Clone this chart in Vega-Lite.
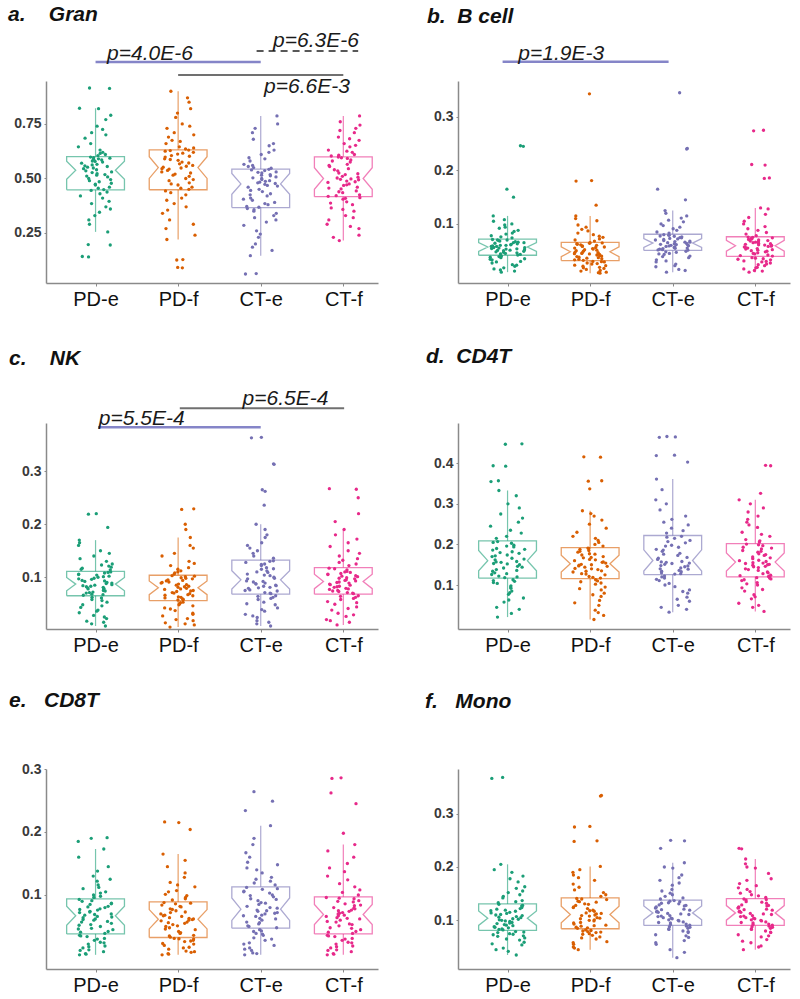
{
"$schema":"https://vega.github.io/schema/vega-lite/v6.json",
"background":"white",
"padding":{"left":8,"top":3,"right":5,"bottom":5},
"columns":2,
"spacing":{"row":140,"column":80},
"bounds":"flush",
"concat":[
{"width":332,"height":202,"data":{"name":"a"},
"title":{"text":"a.\u00a0\u00a0\u00a0\u00a0Gran","dx":-38,"offset":5},
"encoding":{
"x":{"field":"X","type":"quantitative","scale":{"domain":[0.4,4.42],"nice":false,"zero":false},"axis":{"values":[1,2,3,4],"labelExpr":"['','PD-e','PD-f','CT-e','CT-f'][datum.value]","title":null}},
"y":{"field":"Y","type":"quantitative","scale":{"domain":[0.0206,0.947],"nice":false,"zero":false},"axis":{"values":[0.25,0.5,0.75],"format":".2f","title":null}},
"color":{"field":"g","type":"nominal","scale":{"domain":["PD-e","PD-f","CT-e","CT-f"],"range":["#1b9e77","#d95f02","#7570b3","#e7298a"]},"legend":null}},
"layer":[
{"transform":[{"joinaggregate":[{"op":"q1","field":"v","as":"q1"},{"op":"q3","field":"v","as":"q3"}],"groupby":["g"]},{"filter":"datum.v >= datum.q1 - 1.5*(datum.q3-datum.q1) && datum.v <= datum.q3 + 1.5*(datum.q3-datum.q1)"},{"aggregate":[{"op":"min","field":"v","as":"lo"},{"op":"max","field":"v","as":"hi"},{"op":"max","field":"q1","as":"b1"},{"op":"max","field":"q3","as":"b3"}],"groupby":["g"]},{"fold":["lo","hi"],"as":["end","Y"]},{"calculate":"datum.end == 'hi' ? datum.b3 : datum.b1","as":"Y2"},{"calculate":"indexof(['PD-e','PD-f','CT-e','CT-f'], datum.g) + 1","as":"X"}],"mark":{"type":"rule","strokeWidth":1.2,"opacity":0.6},"encoding":{"y2":{"field":"Y2"}}},
{"transform":[{"aggregate":[{"op":"q1","field":"v","as":"q1"},{"op":"median","field":"v","as":"md"},{"op":"q3","field":"v","as":"q3"},{"op":"count","as":"n"}],"groupby":["g"]},{"calculate":"2.3*(datum.q3-datum.q1)/sqrt(datum.n)","as":"nt"},{"calculate":"[0,1,2,3,4,5,6,7,8,9,10]","as":"k"},{"flatten":["k"]},{"calculate":"indexof(['PD-e','PD-f','CT-e','CT-f'], datum.g) + 1 + [-0.35,-0.35,-0.24,-0.35,-0.35,0.35,0.35,0.24,0.35,0.35,-0.35][datum.k]","as":"X"},{"calculate":"[datum.q1, datum.md-datum.nt, datum.md, datum.md+datum.nt, datum.q3, datum.q3, datum.md+datum.nt, datum.md, datum.md-datum.nt, datum.q1, datum.q1][datum.k]","as":"Y"}],"mark":{"type":"line","strokeWidth":1.3,"opacity":0.6},"encoding":{"order":{"field":"k","type":"quantitative"}}},
{"transform":[{"window":[{"op":"row_number","as":"rn"}],"groupby":["g"]},{"calculate":"indexof(['PD-e','PD-f','CT-e','CT-f'], datum.g) + 1 + 0.42*((abs(sin(datum.rn*12.9898 + datum.v*78.233))*43758.5453) % 1 - 0.5)","as":"X"},{"calculate":"datum.v","as":"Y"}],"mark":{"type":"circle","size":11,"opacity":1}},
{"transform":[{"aggregate":[{"op":"count","as":"n"}]},{"calculate":"1","as":"X"},{"calculate":"3","as":"X2"},{"calculate":"1.034","as":"Y"}],"mark":{"type":"rule","strokeWidth":2.5},"encoding":{"x2":{"field":"X2"},"color":{"value":"#8585c8"}}},
{"transform":[{"aggregate":[{"op":"count","as":"n"}]},{"calculate":"1.14","as":"X"},{"calculate":"1.045","as":"Y"}],"mark":{"type":"text","text":"p=4.0E-6","align":"left","baseline":"alphabetic","fontSize":21,"fontStyle":"italic","font":"Liberation Sans"},"encoding":{"color":{"value":"#1a1a1a"}}},
{"transform":[{"aggregate":[{"op":"count","as":"n"}]},{"calculate":"2","as":"X"},{"calculate":"4","as":"X2"},{"calculate":"0.975","as":"Y"}],"mark":{"type":"rule","strokeWidth":2},"encoding":{"x2":{"field":"X2"},"color":{"value":"#707070"}}},
{"transform":[{"aggregate":[{"op":"count","as":"n"}]},{"calculate":"3.04","as":"X"},{"calculate":"0.892","as":"Y"}],"mark":{"type":"text","text":"p=6.6E-3","align":"left","baseline":"alphabetic","fontSize":21,"fontStyle":"italic","font":"Liberation Sans"},"encoding":{"color":{"value":"#1a1a1a"}}},
{"transform":[{"aggregate":[{"op":"count","as":"n"}]},{"calculate":"2.95","as":"X"},{"calculate":"4.18","as":"X2"},{"calculate":"1.085","as":"Y"}],"mark":{"type":"rule","strokeWidth":1.5,"strokeDash":[7,5]},"encoding":{"x2":{"field":"X2"},"color":{"value":"#222222"}}},
{"transform":[{"aggregate":[{"op":"count","as":"n"}]},{"calculate":"3.15","as":"X"},{"calculate":"1.103","as":"Y"}],"mark":{"type":"text","text":"p=6.3E-6","align":"left","baseline":"alphabetic","fontSize":21,"fontStyle":"italic","font":"Liberation Sans"},"encoding":{"color":{"value":"#1a1a1a"}}}
]},
{"width":332,"height":202,"data":{"name":"b"},
"title":{"text":"b.\u00a0\u00a0B cell","dx":-31,"offset":16},
"encoding":{
"x":{"field":"X","type":"quantitative","scale":{"domain":[0.4,4.42],"nice":false,"zero":false},"axis":{"values":[1,2,3,4],"labelExpr":"['','PD-e','PD-f','CT-e','CT-f'][datum.value]","title":null}},
"y":{"field":"Y","type":"quantitative","scale":{"domain":[-0.0103,0.367],"nice":false,"zero":false},"axis":{"values":[0.1,0.2,0.3],"format":".1f","title":null}},
"color":{"field":"g","type":"nominal","scale":{"domain":["PD-e","PD-f","CT-e","CT-f"],"range":["#1b9e77","#d95f02","#7570b3","#e7298a"]},"legend":null}},
"layer":[
{"transform":[{"joinaggregate":[{"op":"q1","field":"v","as":"q1"},{"op":"q3","field":"v","as":"q3"}],"groupby":["g"]},{"filter":"datum.v >= datum.q1 - 1.5*(datum.q3-datum.q1) && datum.v <= datum.q3 + 1.5*(datum.q3-datum.q1)"},{"aggregate":[{"op":"min","field":"v","as":"lo"},{"op":"max","field":"v","as":"hi"},{"op":"max","field":"q1","as":"b1"},{"op":"max","field":"q3","as":"b3"}],"groupby":["g"]},{"fold":["lo","hi"],"as":["end","Y"]},{"calculate":"datum.end == 'hi' ? datum.b3 : datum.b1","as":"Y2"},{"calculate":"indexof(['PD-e','PD-f','CT-e','CT-f'], datum.g) + 1","as":"X"}],"mark":{"type":"rule","strokeWidth":1.2,"opacity":0.6},"encoding":{"y2":{"field":"Y2"}}},
{"transform":[{"aggregate":[{"op":"q1","field":"v","as":"q1"},{"op":"median","field":"v","as":"md"},{"op":"q3","field":"v","as":"q3"},{"op":"count","as":"n"}],"groupby":["g"]},{"calculate":"2.3*(datum.q3-datum.q1)/sqrt(datum.n)","as":"nt"},{"calculate":"[0,1,2,3,4,5,6,7,8,9,10]","as":"k"},{"flatten":["k"]},{"calculate":"indexof(['PD-e','PD-f','CT-e','CT-f'], datum.g) + 1 + [-0.35,-0.35,-0.24,-0.35,-0.35,0.35,0.35,0.24,0.35,0.35,-0.35][datum.k]","as":"X"},{"calculate":"[datum.q1, datum.md-datum.nt, datum.md, datum.md+datum.nt, datum.q3, datum.q3, datum.md+datum.nt, datum.md, datum.md-datum.nt, datum.q1, datum.q1][datum.k]","as":"Y"}],"mark":{"type":"line","strokeWidth":1.3,"opacity":0.6},"encoding":{"order":{"field":"k","type":"quantitative"}}},
{"transform":[{"window":[{"op":"row_number","as":"rn"}],"groupby":["g"]},{"calculate":"indexof(['PD-e','PD-f','CT-e','CT-f'], datum.g) + 1 + 0.42*((abs(sin(datum.rn*12.9898 + datum.v*78.233))*43758.5453) % 1 - 0.5)","as":"X"},{"calculate":"datum.v","as":"Y"}],"mark":{"type":"circle","size":11,"opacity":1}},
{"transform":[{"aggregate":[{"op":"count","as":"n"}]},{"calculate":"0.94","as":"X"},{"calculate":"2.95","as":"X2"},{"calculate":"0.403","as":"Y"}],"mark":{"type":"rule","strokeWidth":2.5},"encoding":{"x2":{"field":"X2"},"color":{"value":"#8585c8"}}},
{"transform":[{"aggregate":[{"op":"count","as":"n"}]},{"calculate":"1.13","as":"X"},{"calculate":"0.4065","as":"Y"}],"mark":{"type":"text","text":"p=1.9E-3","align":"left","baseline":"alphabetic","fontSize":21,"fontStyle":"italic","font":"Liberation Sans"},"encoding":{"color":{"value":"#1a1a1a"}}}
]},
{"width":332,"height":206,"data":{"name":"c"},
"title":{"text":"c.\u00a0\u00a0\u00a0\u00a0NK","dx":-37,"offset":19},
"encoding":{
"x":{"field":"X","type":"quantitative","scale":{"domain":[0.4,4.42],"nice":false,"zero":false},"axis":{"values":[1,2,3,4],"labelExpr":"['','PD-e','PD-f','CT-e','CT-f'][datum.value]","title":null}},
"y":{"field":"Y","type":"quantitative","scale":{"domain":[0.0023,0.391],"nice":false,"zero":false},"axis":{"values":[0.1,0.2,0.3],"format":".1f","title":null}},
"color":{"field":"g","type":"nominal","scale":{"domain":["PD-e","PD-f","CT-e","CT-f"],"range":["#1b9e77","#d95f02","#7570b3","#e7298a"]},"legend":null}},
"layer":[
{"transform":[{"joinaggregate":[{"op":"q1","field":"v","as":"q1"},{"op":"q3","field":"v","as":"q3"}],"groupby":["g"]},{"filter":"datum.v >= datum.q1 - 1.5*(datum.q3-datum.q1) && datum.v <= datum.q3 + 1.5*(datum.q3-datum.q1)"},{"aggregate":[{"op":"min","field":"v","as":"lo"},{"op":"max","field":"v","as":"hi"},{"op":"max","field":"q1","as":"b1"},{"op":"max","field":"q3","as":"b3"}],"groupby":["g"]},{"fold":["lo","hi"],"as":["end","Y"]},{"calculate":"datum.end == 'hi' ? datum.b3 : datum.b1","as":"Y2"},{"calculate":"indexof(['PD-e','PD-f','CT-e','CT-f'], datum.g) + 1","as":"X"}],"mark":{"type":"rule","strokeWidth":1.2,"opacity":0.6},"encoding":{"y2":{"field":"Y2"}}},
{"transform":[{"aggregate":[{"op":"q1","field":"v","as":"q1"},{"op":"median","field":"v","as":"md"},{"op":"q3","field":"v","as":"q3"},{"op":"count","as":"n"}],"groupby":["g"]},{"calculate":"2.3*(datum.q3-datum.q1)/sqrt(datum.n)","as":"nt"},{"calculate":"[0,1,2,3,4,5,6,7,8,9,10]","as":"k"},{"flatten":["k"]},{"calculate":"indexof(['PD-e','PD-f','CT-e','CT-f'], datum.g) + 1 + [-0.35,-0.35,-0.24,-0.35,-0.35,0.35,0.35,0.24,0.35,0.35,-0.35][datum.k]","as":"X"},{"calculate":"[datum.q1, datum.md-datum.nt, datum.md, datum.md+datum.nt, datum.q3, datum.q3, datum.md+datum.nt, datum.md, datum.md-datum.nt, datum.q1, datum.q1][datum.k]","as":"Y"}],"mark":{"type":"line","strokeWidth":1.3,"opacity":0.6},"encoding":{"order":{"field":"k","type":"quantitative"}}},
{"transform":[{"window":[{"op":"row_number","as":"rn"}],"groupby":["g"]},{"calculate":"indexof(['PD-e','PD-f','CT-e','CT-f'], datum.g) + 1 + 0.42*((abs(sin(datum.rn*12.9898 + datum.v*78.233))*43758.5453) % 1 - 0.5)","as":"X"},{"calculate":"datum.v","as":"Y"}],"mark":{"type":"circle","size":11,"opacity":1}},
{"transform":[{"aggregate":[{"op":"count","as":"n"}]},{"calculate":"1.03","as":"X"},{"calculate":"3","as":"X2"},{"calculate":"0.383","as":"Y"}],"mark":{"type":"rule","strokeWidth":2.5},"encoding":{"x2":{"field":"X2"},"color":{"value":"#8585c8"}}},
{"transform":[{"aggregate":[{"op":"count","as":"n"}]},{"calculate":"1.04","as":"X"},{"calculate":"0.387","as":"Y"}],"mark":{"type":"text","text":"p=5.5E-4","align":"left","baseline":"alphabetic","fontSize":21,"fontStyle":"italic","font":"Liberation Sans"},"encoding":{"color":{"value":"#1a1a1a"}}},
{"transform":[{"aggregate":[{"op":"count","as":"n"}]},{"calculate":"2.02","as":"X"},{"calculate":"4.01","as":"X2"},{"calculate":"0.419","as":"Y"}],"mark":{"type":"rule","strokeWidth":2},"encoding":{"x2":{"field":"X2"},"color":{"value":"#707070"}}},
{"transform":[{"aggregate":[{"op":"count","as":"n"}]},{"calculate":"2.78","as":"X"},{"calculate":"0.425","as":"Y"}],"mark":{"type":"text","text":"p=6.5E-4","align":"left","baseline":"alphabetic","fontSize":21,"fontStyle":"italic","font":"Liberation Sans"},"encoding":{"color":{"value":"#1a1a1a"}}}
]},
{"width":332,"height":206,"data":{"name":"d"},
"title":{"text":"d.\u00a0\u00a0CD4T","dx":-32,"offset":56},
"encoding":{
"x":{"field":"X","type":"quantitative","scale":{"domain":[0.4,4.42],"nice":false,"zero":false},"axis":{"values":[1,2,3,4],"labelExpr":"['','PD-e','PD-f','CT-e','CT-f'][datum.value]","title":null}},
"y":{"field":"Y","type":"quantitative","scale":{"domain":[-0.0084,0.4993],"nice":false,"zero":false},"axis":{"values":[0.1,0.2,0.3,0.4],"format":".1f","title":null}},
"color":{"field":"g","type":"nominal","scale":{"domain":["PD-e","PD-f","CT-e","CT-f"],"range":["#1b9e77","#d95f02","#7570b3","#e7298a"]},"legend":null}},
"layer":[
{"transform":[{"joinaggregate":[{"op":"q1","field":"v","as":"q1"},{"op":"q3","field":"v","as":"q3"}],"groupby":["g"]},{"filter":"datum.v >= datum.q1 - 1.5*(datum.q3-datum.q1) && datum.v <= datum.q3 + 1.5*(datum.q3-datum.q1)"},{"aggregate":[{"op":"min","field":"v","as":"lo"},{"op":"max","field":"v","as":"hi"},{"op":"max","field":"q1","as":"b1"},{"op":"max","field":"q3","as":"b3"}],"groupby":["g"]},{"fold":["lo","hi"],"as":["end","Y"]},{"calculate":"datum.end == 'hi' ? datum.b3 : datum.b1","as":"Y2"},{"calculate":"indexof(['PD-e','PD-f','CT-e','CT-f'], datum.g) + 1","as":"X"}],"mark":{"type":"rule","strokeWidth":1.2,"opacity":0.6},"encoding":{"y2":{"field":"Y2"}}},
{"transform":[{"aggregate":[{"op":"q1","field":"v","as":"q1"},{"op":"median","field":"v","as":"md"},{"op":"q3","field":"v","as":"q3"},{"op":"count","as":"n"}],"groupby":["g"]},{"calculate":"2.3*(datum.q3-datum.q1)/sqrt(datum.n)","as":"nt"},{"calculate":"[0,1,2,3,4,5,6,7,8,9,10]","as":"k"},{"flatten":["k"]},{"calculate":"indexof(['PD-e','PD-f','CT-e','CT-f'], datum.g) + 1 + [-0.35,-0.35,-0.24,-0.35,-0.35,0.35,0.35,0.24,0.35,0.35,-0.35][datum.k]","as":"X"},{"calculate":"[datum.q1, datum.md-datum.nt, datum.md, datum.md+datum.nt, datum.q3, datum.q3, datum.md+datum.nt, datum.md, datum.md-datum.nt, datum.q1, datum.q1][datum.k]","as":"Y"}],"mark":{"type":"line","strokeWidth":1.3,"opacity":0.6},"encoding":{"order":{"field":"k","type":"quantitative"}}},
{"transform":[{"window":[{"op":"row_number","as":"rn"}],"groupby":["g"]},{"calculate":"indexof(['PD-e','PD-f','CT-e','CT-f'], datum.g) + 1 + 0.42*((abs(sin(datum.rn*12.9898 + datum.v*78.233))*43758.5453) % 1 - 0.5)","as":"X"},{"calculate":"datum.v","as":"Y"}],"mark":{"type":"circle","size":11,"opacity":1}}
]},
{"width":332,"height":200,"data":{"name":"e"},
"title":{"text":"e.\u00a0\u00a0\u00a0CD8T","dx":-37,"offset":51},
"encoding":{
"x":{"field":"X","type":"quantitative","scale":{"domain":[0.4,4.42],"nice":false,"zero":false},"axis":{"values":[1,2,3,4],"labelExpr":"['','PD-e','PD-f','CT-e','CT-f'][datum.value]","title":null}},
"y":{"field":"Y","type":"quantitative","scale":{"domain":[-0.0175,0.3],"nice":false,"zero":false},"axis":{"values":[0.1,0.2,0.3],"format":".1f","title":null}},
"color":{"field":"g","type":"nominal","scale":{"domain":["PD-e","PD-f","CT-e","CT-f"],"range":["#1b9e77","#d95f02","#7570b3","#e7298a"]},"legend":null}},
"layer":[
{"transform":[{"joinaggregate":[{"op":"q1","field":"v","as":"q1"},{"op":"q3","field":"v","as":"q3"}],"groupby":["g"]},{"filter":"datum.v >= datum.q1 - 1.5*(datum.q3-datum.q1) && datum.v <= datum.q3 + 1.5*(datum.q3-datum.q1)"},{"aggregate":[{"op":"min","field":"v","as":"lo"},{"op":"max","field":"v","as":"hi"},{"op":"max","field":"q1","as":"b1"},{"op":"max","field":"q3","as":"b3"}],"groupby":["g"]},{"fold":["lo","hi"],"as":["end","Y"]},{"calculate":"datum.end == 'hi' ? datum.b3 : datum.b1","as":"Y2"},{"calculate":"indexof(['PD-e','PD-f','CT-e','CT-f'], datum.g) + 1","as":"X"}],"mark":{"type":"rule","strokeWidth":1.2,"opacity":0.6},"encoding":{"y2":{"field":"Y2"}}},
{"transform":[{"aggregate":[{"op":"q1","field":"v","as":"q1"},{"op":"median","field":"v","as":"md"},{"op":"q3","field":"v","as":"q3"},{"op":"count","as":"n"}],"groupby":["g"]},{"calculate":"2.3*(datum.q3-datum.q1)/sqrt(datum.n)","as":"nt"},{"calculate":"[0,1,2,3,4,5,6,7,8,9,10]","as":"k"},{"flatten":["k"]},{"calculate":"indexof(['PD-e','PD-f','CT-e','CT-f'], datum.g) + 1 + [-0.35,-0.35,-0.24,-0.35,-0.35,0.35,0.35,0.24,0.35,0.35,-0.35][datum.k]","as":"X"},{"calculate":"[datum.q1, datum.md-datum.nt, datum.md, datum.md+datum.nt, datum.q3, datum.q3, datum.md+datum.nt, datum.md, datum.md-datum.nt, datum.q1, datum.q1][datum.k]","as":"Y"}],"mark":{"type":"line","strokeWidth":1.3,"opacity":0.6},"encoding":{"order":{"field":"k","type":"quantitative"}}},
{"transform":[{"window":[{"op":"row_number","as":"rn"}],"groupby":["g"]},{"calculate":"indexof(['PD-e','PD-f','CT-e','CT-f'], datum.g) + 1 + 0.42*((abs(sin(datum.rn*12.9898 + datum.v*78.233))*43758.5453) % 1 - 0.5)","as":"X"},{"calculate":"datum.v","as":"Y"}],"mark":{"type":"circle","size":11,"opacity":1}}
]},
{"width":332,"height":200,"data":{"name":"f"},
"title":{"text":"f.\u00a0\u00a0\u00a0Mono","dx":-33,"offset":57},
"encoding":{
"x":{"field":"X","type":"quantitative","scale":{"domain":[0.4,4.42],"nice":false,"zero":false},"axis":{"values":[1,2,3,4],"labelExpr":"['','PD-e','PD-f','CT-e','CT-f'][datum.value]","title":null}},
"y":{"field":"Y","type":"quantitative","scale":{"domain":[0.0088,0.3837],"nice":false,"zero":false},"axis":{"values":[0.1,0.2,0.3],"format":".1f","title":null}},
"color":{"field":"g","type":"nominal","scale":{"domain":["PD-e","PD-f","CT-e","CT-f"],"range":["#1b9e77","#d95f02","#7570b3","#e7298a"]},"legend":null}},
"layer":[
{"transform":[{"joinaggregate":[{"op":"q1","field":"v","as":"q1"},{"op":"q3","field":"v","as":"q3"}],"groupby":["g"]},{"filter":"datum.v >= datum.q1 - 1.5*(datum.q3-datum.q1) && datum.v <= datum.q3 + 1.5*(datum.q3-datum.q1)"},{"aggregate":[{"op":"min","field":"v","as":"lo"},{"op":"max","field":"v","as":"hi"},{"op":"max","field":"q1","as":"b1"},{"op":"max","field":"q3","as":"b3"}],"groupby":["g"]},{"fold":["lo","hi"],"as":["end","Y"]},{"calculate":"datum.end == 'hi' ? datum.b3 : datum.b1","as":"Y2"},{"calculate":"indexof(['PD-e','PD-f','CT-e','CT-f'], datum.g) + 1","as":"X"}],"mark":{"type":"rule","strokeWidth":1.2,"opacity":0.6},"encoding":{"y2":{"field":"Y2"}}},
{"transform":[{"aggregate":[{"op":"q1","field":"v","as":"q1"},{"op":"median","field":"v","as":"md"},{"op":"q3","field":"v","as":"q3"},{"op":"count","as":"n"}],"groupby":["g"]},{"calculate":"2.3*(datum.q3-datum.q1)/sqrt(datum.n)","as":"nt"},{"calculate":"[0,1,2,3,4,5,6,7,8,9,10]","as":"k"},{"flatten":["k"]},{"calculate":"indexof(['PD-e','PD-f','CT-e','CT-f'], datum.g) + 1 + [-0.35,-0.35,-0.24,-0.35,-0.35,0.35,0.35,0.24,0.35,0.35,-0.35][datum.k]","as":"X"},{"calculate":"[datum.q1, datum.md-datum.nt, datum.md, datum.md+datum.nt, datum.q3, datum.q3, datum.md+datum.nt, datum.md, datum.md-datum.nt, datum.q1, datum.q1][datum.k]","as":"Y"}],"mark":{"type":"line","strokeWidth":1.3,"opacity":0.6},"encoding":{"order":{"field":"k","type":"quantitative"}}},
{"transform":[{"window":[{"op":"row_number","as":"rn"}],"groupby":["g"]},{"calculate":"indexof(['PD-e','PD-f','CT-e','CT-f'], datum.g) + 1 + 0.42*((abs(sin(datum.rn*12.9898 + datum.v*78.233))*43758.5453) % 1 - 0.5)","as":"X"},{"calculate":"datum.v","as":"Y"}],"mark":{"type":"circle","size":11,"opacity":1}}
]}
],
"datasets":{
"a":[
{"g":"PD-e","v":0.14},{"g":"PD-e","v":0.142},{"g":"PD-e","v":0.195},{"g":"PD-e","v":0.197},{"g":"PD-e","v":0.255},{"g":"PD-e","v":0.31},{"g":"PD-e","v":0.345},{"g":"PD-e","v":0.37},{"g":"PD-e","v":0.395},{"g":"PD-e","v":0.41},{"g":"PD-e","v":0.43},{"g":"PD-e","v":0.445},
{"g":"PD-e","v":0.449},{"g":"PD-e","v":0.46},{"g":"PD-e","v":0.47},{"g":"PD-e","v":0.478},{"g":"PD-e","v":0.485},{"g":"PD-e","v":0.49},{"g":"PD-e","v":0.5},{"g":"PD-e","v":0.507},{"g":"PD-e","v":0.515},{"g":"PD-e","v":0.522},{"g":"PD-e","v":0.53},{"g":"PD-e","v":0.535},
{"g":"PD-e","v":0.54},{"g":"PD-e","v":0.545},{"g":"PD-e","v":0.552},{"g":"PD-e","v":0.558},{"g":"PD-e","v":0.565},{"g":"PD-e","v":0.57},{"g":"PD-e","v":0.575},{"g":"PD-e","v":0.58},{"g":"PD-e","v":0.585},{"g":"PD-e","v":0.59},{"g":"PD-e","v":0.595},{"g":"PD-e","v":0.598},
{"g":"PD-e","v":0.605},{"g":"PD-e","v":0.615},{"g":"PD-e","v":0.63},{"g":"PD-e","v":0.645},{"g":"PD-e","v":0.685},{"g":"PD-e","v":0.71},{"g":"PD-e","v":0.74},{"g":"PD-e","v":0.77},{"g":"PD-e","v":0.82},{"g":"PD-e","v":0.822},{"g":"PD-e","v":0.915},{"g":"PD-e","v":0.913},
{"g":"PD-e","v":0.29},{"g":"PD-e","v":0.33},{"g":"PD-e","v":0.36},{"g":"PD-e","v":0.385},{"g":"PD-e","v":0.42},{"g":"PD-e","v":0.438},{"g":"PD-e","v":0.455},{"g":"PD-e","v":0.474},{"g":"PD-e","v":0.495},{"g":"PD-e","v":0.511},{"g":"PD-e","v":0.518},{"g":"PD-e","v":0.527},
{"g":"PD-e","v":0.548},{"g":"PD-e","v":0.555},{"g":"PD-e","v":0.562},{"g":"PD-e","v":0.578},{"g":"PD-e","v":0.588},{"g":"PD-e","v":0.593},{"g":"PD-e","v":0.61},{"g":"PD-e","v":0.62},{"g":"PD-e","v":0.66},{"g":"PD-e","v":0.7},{"g":"PD-e","v":0.725},{"g":"PD-e","v":0.79},
{"g":"PD-f","v":0.09},{"g":"PD-f","v":0.092},{"g":"PD-f","v":0.126},{"g":"PD-f","v":0.128},{"g":"PD-f","v":0.22},{"g":"PD-f","v":0.27},{"g":"PD-f","v":0.31},{"g":"PD-f","v":0.34},{"g":"PD-f","v":0.37},{"g":"PD-f","v":0.4},{"g":"PD-f","v":0.425},{"g":"PD-f","v":0.443},
{"g":"PD-f","v":0.45},{"g":"PD-f","v":0.46},{"g":"PD-f","v":0.47},{"g":"PD-f","v":0.48},{"g":"PD-f","v":0.49},{"g":"PD-f","v":0.5},{"g":"PD-f","v":0.51},{"g":"PD-f","v":0.52},{"g":"PD-f","v":0.53},{"g":"PD-f","v":0.537},{"g":"PD-f","v":0.543},{"g":"PD-f","v":0.548},
{"g":"PD-f","v":0.552},{"g":"PD-f","v":0.56},{"g":"PD-f","v":0.567},{"g":"PD-f","v":0.575},{"g":"PD-f","v":0.583},{"g":"PD-f","v":0.59},{"g":"PD-f","v":0.598},{"g":"PD-f","v":0.605},{"g":"PD-f","v":0.612},{"g":"PD-f","v":0.62},{"g":"PD-f","v":0.625},{"g":"PD-f","v":0.63},
{"g":"PD-f","v":0.635},{"g":"PD-f","v":0.645},{"g":"PD-f","v":0.66},{"g":"PD-f","v":0.675},{"g":"PD-f","v":0.69},{"g":"PD-f","v":0.71},{"g":"PD-f","v":0.73},{"g":"PD-f","v":0.75},{"g":"PD-f","v":0.78},{"g":"PD-f","v":0.82},{"g":"PD-f","v":0.87},{"g":"PD-f","v":0.9},
{"g":"PD-f","v":0.24},{"g":"PD-f","v":0.29},{"g":"PD-f","v":0.355},{"g":"PD-f","v":0.385},{"g":"PD-f","v":0.41},{"g":"PD-f","v":0.435},{"g":"PD-f","v":0.455},{"g":"PD-f","v":0.475},{"g":"PD-f","v":0.495},{"g":"PD-f","v":0.515},{"g":"PD-f","v":0.525},{"g":"PD-f","v":0.545},
{"g":"PD-f","v":0.556},{"g":"PD-f","v":0.571},{"g":"PD-f","v":0.587},{"g":"PD-f","v":0.602},{"g":"PD-f","v":0.616},{"g":"PD-f","v":0.628},{"g":"PD-f","v":0.64},{"g":"PD-f","v":0.67},{"g":"PD-f","v":0.7},{"g":"PD-f","v":0.74},{"g":"PD-f","v":0.8},{"g":"PD-f","v":0.85},
{"g":"CT-e","v":0.062},{"g":"CT-e","v":0.064},{"g":"CT-e","v":0.146},{"g":"CT-e","v":0.17},{"g":"CT-e","v":0.2},{"g":"CT-e","v":0.23},{"g":"CT-e","v":0.26},{"g":"CT-e","v":0.285},{"g":"CT-e","v":0.31},{"g":"CT-e","v":0.33},{"g":"CT-e","v":0.35},{"g":"CT-e","v":0.362},
{"g":"CT-e","v":0.368},{"g":"CT-e","v":0.38},{"g":"CT-e","v":0.39},{"g":"CT-e","v":0.4},{"g":"CT-e","v":0.41},{"g":"CT-e","v":0.42},{"g":"CT-e","v":0.43},{"g":"CT-e","v":0.44},{"g":"CT-e","v":0.45},{"g":"CT-e","v":0.46},{"g":"CT-e","v":0.468},{"g":"CT-e","v":0.473},
{"g":"CT-e","v":0.477},{"g":"CT-e","v":0.483},{"g":"CT-e","v":0.49},{"g":"CT-e","v":0.495},{"g":"CT-e","v":0.5},{"g":"CT-e","v":0.507},{"g":"CT-e","v":0.512},{"g":"CT-e","v":0.518},{"g":"CT-e","v":0.525},{"g":"CT-e","v":0.53},{"g":"CT-e","v":0.536},{"g":"CT-e","v":0.542},
{"g":"CT-e","v":0.547},{"g":"CT-e","v":0.555},{"g":"CT-e","v":0.565},{"g":"CT-e","v":0.58},{"g":"CT-e","v":0.595},{"g":"CT-e","v":0.61},{"g":"CT-e","v":0.63},{"g":"CT-e","v":0.65},{"g":"CT-e","v":0.68},{"g":"CT-e","v":0.71},{"g":"CT-e","v":0.75},{"g":"CT-e","v":0.787},
{"g":"CT-e","v":0.185},{"g":"CT-e","v":0.245},{"g":"CT-e","v":0.3},{"g":"CT-e","v":0.32},{"g":"CT-e","v":0.34},{"g":"CT-e","v":0.357},{"g":"CT-e","v":0.372},{"g":"CT-e","v":0.385},{"g":"CT-e","v":0.405},{"g":"CT-e","v":0.425},{"g":"CT-e","v":0.445},{"g":"CT-e","v":0.465},
{"g":"CT-e","v":0.48},{"g":"CT-e","v":0.487},{"g":"CT-e","v":0.503},{"g":"CT-e","v":0.515},{"g":"CT-e","v":0.528},{"g":"CT-e","v":0.539},{"g":"CT-e","v":0.55},{"g":"CT-e","v":0.56},{"g":"CT-e","v":0.59},{"g":"CT-e","v":0.62},{"g":"CT-e","v":0.66},{"g":"CT-e","v":0.73},
{"g":"CT-f","v":0.215},{"g":"CT-f","v":0.24},{"g":"CT-f","v":0.27},{"g":"CT-f","v":0.29},{"g":"CT-f","v":0.31},{"g":"CT-f","v":0.33},{"g":"CT-f","v":0.35},{"g":"CT-f","v":0.365},{"g":"CT-f","v":0.38},{"g":"CT-f","v":0.393},{"g":"CT-f","v":0.405},{"g":"CT-f","v":0.412},
{"g":"CT-f","v":0.418},{"g":"CT-f","v":0.425},{"g":"CT-f","v":0.435},{"g":"CT-f","v":0.443},{"g":"CT-f","v":0.452},{"g":"CT-f","v":0.46},{"g":"CT-f","v":0.468},{"g":"CT-f","v":0.475},{"g":"CT-f","v":0.482},{"g":"CT-f","v":0.488},{"g":"CT-f","v":0.494},{"g":"CT-f","v":0.498},
{"g":"CT-f","v":0.502},{"g":"CT-f","v":0.51},{"g":"CT-f","v":0.518},{"g":"CT-f","v":0.525},{"g":"CT-f","v":0.535},{"g":"CT-f","v":0.545},{"g":"CT-f","v":0.555},{"g":"CT-f","v":0.565},{"g":"CT-f","v":0.575},{"g":"CT-f","v":0.585},{"g":"CT-f","v":0.592},{"g":"CT-f","v":0.598},
{"g":"CT-f","v":0.603},{"g":"CT-f","v":0.61},{"g":"CT-f","v":0.62},{"g":"CT-f","v":0.63},{"g":"CT-f","v":0.645},{"g":"CT-f","v":0.66},{"g":"CT-f","v":0.675},{"g":"CT-f","v":0.69},{"g":"CT-f","v":0.71},{"g":"CT-f","v":0.73},{"g":"CT-f","v":0.76},{"g":"CT-f","v":0.787},
{"g":"CT-f","v":0.23},{"g":"CT-f","v":0.28},{"g":"CT-f","v":0.32},{"g":"CT-f","v":0.358},{"g":"CT-f","v":0.387},{"g":"CT-f","v":0.409},{"g":"CT-f","v":0.421},{"g":"CT-f","v":0.439},{"g":"CT-f","v":0.456},{"g":"CT-f","v":0.471},{"g":"CT-f","v":0.485},{"g":"CT-f","v":0.496},
{"g":"CT-f","v":0.506},{"g":"CT-f","v":0.522},{"g":"CT-f","v":0.54},{"g":"CT-f","v":0.56},{"g":"CT-f","v":0.58},{"g":"CT-f","v":0.595},{"g":"CT-f","v":0.607},{"g":"CT-f","v":0.625},{"g":"CT-f","v":0.652},{"g":"CT-f","v":0.682},{"g":"CT-f","v":0.72},{"g":"CT-f","v":0.745}
],
"b":[
{"g":"PD-e","v":0.010},{"g":"PD-e","v":0.014},{"g":"PD-e","v":0.018},{"g":"PD-e","v":0.021},{"g":"PD-e","v":0.024},{"g":"PD-e","v":0.027},{"g":"PD-e","v":0.030},{"g":"PD-e","v":0.033},{"g":"PD-e","v":0.035},{"g":"PD-e","v":0.037},{"g":"PD-e","v":0.039},{"g":"PD-e","v":0.040},
{"g":"PD-e","v":0.042},{"g":"PD-e","v":0.044},{"g":"PD-e","v":0.046},{"g":"PD-e","v":0.047},{"g":"PD-e","v":0.049},{"g":"PD-e","v":0.050},{"g":"PD-e","v":0.051},{"g":"PD-e","v":0.052},{"g":"PD-e","v":0.053},{"g":"PD-e","v":0.054},{"g":"PD-e","v":0.055},{"g":"PD-e","v":0.056},
{"g":"PD-e","v":0.058},{"g":"PD-e","v":0.059},{"g":"PD-e","v":0.060},{"g":"PD-e","v":0.061},{"g":"PD-e","v":0.062},{"g":"PD-e","v":0.064},{"g":"PD-e","v":0.065},{"g":"PD-e","v":0.066},{"g":"PD-e","v":0.068},{"g":"PD-e","v":0.069},{"g":"PD-e","v":0.070},{"g":"PD-e","v":0.071},
{"g":"PD-e","v":0.074},{"g":"PD-e","v":0.078},{"g":"PD-e","v":0.083},{"g":"PD-e","v":0.088},{"g":"PD-e","v":0.094},{"g":"PD-e","v":0.100},{"g":"PD-e","v":0.108},{"g":"PD-e","v":0.115},{"g":"PD-e","v":0.150},{"g":"PD-e","v":0.165},{"g":"PD-e","v":0.245},{"g":"PD-e","v":0.246},
{"g":"PD-e","v":0.012},{"g":"PD-e","v":0.016},{"g":"PD-e","v":0.023},{"g":"PD-e","v":0.029},{"g":"PD-e","v":0.034},{"g":"PD-e","v":0.038},{"g":"PD-e","v":0.043},{"g":"PD-e","v":0.045},{"g":"PD-e","v":0.048},{"g":"PD-e","v":0.0505},{"g":"PD-e","v":0.0535},{"g":"PD-e","v":0.0555},
{"g":"PD-e","v":0.058},{"g":"PD-e","v":0.06},{"g":"PD-e","v":0.063},{"g":"PD-e","v":0.065},{"g":"PD-e","v":0.067},{"g":"PD-e","v":0.07},{"g":"PD-e","v":0.076},{"g":"PD-e","v":0.081},{"g":"PD-e","v":0.086},{"g":"PD-e","v":0.092},{"g":"PD-e","v":0.098},{"g":"PD-e","v":0.105},
{"g":"PD-f","v":0.008},{"g":"PD-f","v":0.010},{"g":"PD-f","v":0.012},{"g":"PD-f","v":0.015},{"g":"PD-f","v":0.017},{"g":"PD-f","v":0.019},{"g":"PD-f","v":0.021},{"g":"PD-f","v":0.023},{"g":"PD-f","v":0.025},{"g":"PD-f","v":0.027},{"g":"PD-f","v":0.029},{"g":"PD-f","v":0.030},
{"g":"PD-f","v":0.032},{"g":"PD-f","v":0.034},{"g":"PD-f","v":0.036},{"g":"PD-f","v":0.037},{"g":"PD-f","v":0.039},{"g":"PD-f","v":0.040},{"g":"PD-f","v":0.042},{"g":"PD-f","v":0.043},{"g":"PD-f","v":0.044},{"g":"PD-f","v":0.045},{"g":"PD-f","v":0.046},{"g":"PD-f","v":0.047},
{"g":"PD-f","v":0.049},{"g":"PD-f","v":0.050},{"g":"PD-f","v":0.052},{"g":"PD-f","v":0.053},{"g":"PD-f","v":0.055},{"g":"PD-f","v":0.056},{"g":"PD-f","v":0.058},{"g":"PD-f","v":0.059},{"g":"PD-f","v":0.061},{"g":"PD-f","v":0.062},{"g":"PD-f","v":0.064},{"g":"PD-f","v":0.065},
{"g":"PD-f","v":0.068},{"g":"PD-f","v":0.072},{"g":"PD-f","v":0.077},{"g":"PD-f","v":0.083},{"g":"PD-f","v":0.090},{"g":"PD-f","v":0.098},{"g":"PD-f","v":0.106},{"g":"PD-f","v":0.115},{"g":"PD-f","v":0.135},{"g":"PD-f","v":0.180},{"g":"PD-f","v":0.181},{"g":"PD-f","v":0.343},
{"g":"PD-f","v":0.009},{"g":"PD-f","v":0.013},{"g":"PD-f","v":0.018},{"g":"PD-f","v":0.022},{"g":"PD-f","v":0.026},{"g":"PD-f","v":0.0295},{"g":"PD-f","v":0.033},{"g":"PD-f","v":0.035},{"g":"PD-f","v":0.038},{"g":"PD-f","v":0.041},{"g":"PD-f","v":0.0445},{"g":"PD-f","v":0.0465},
{"g":"PD-f","v":0.051},{"g":"PD-f","v":0.054},{"g":"PD-f","v":0.057},{"g":"PD-f","v":0.06},{"g":"PD-f","v":0.063},{"g":"PD-f","v":0.0645},{"g":"PD-f","v":0.07},{"g":"PD-f","v":0.075},{"g":"PD-f","v":0.08},{"g":"PD-f","v":0.087},{"g":"PD-f","v":0.094},{"g":"PD-f","v":0.11},
{"g":"CT-e","v":0.010},{"g":"CT-e","v":0.015},{"g":"CT-e","v":0.020},{"g":"CT-e","v":0.025},{"g":"CT-e","v":0.029},{"g":"CT-e","v":0.033},{"g":"CT-e","v":0.037},{"g":"CT-e","v":0.040},{"g":"CT-e","v":0.043},{"g":"CT-e","v":0.045},{"g":"CT-e","v":0.047},{"g":"CT-e","v":0.049},
{"g":"CT-e","v":0.051},{"g":"CT-e","v":0.052},{"g":"CT-e","v":0.053},{"g":"CT-e","v":0.054},{"g":"CT-e","v":0.055},{"g":"CT-e","v":0.057},{"g":"CT-e","v":0.058},{"g":"CT-e","v":0.059},{"g":"CT-e","v":0.060},{"g":"CT-e","v":0.061},{"g":"CT-e","v":0.062},{"g":"CT-e","v":0.063},
{"g":"CT-e","v":0.065},{"g":"CT-e","v":0.066},{"g":"CT-e","v":0.067},{"g":"CT-e","v":0.069},{"g":"CT-e","v":0.070},{"g":"CT-e","v":0.072},{"g":"CT-e","v":0.073},{"g":"CT-e","v":0.074},{"g":"CT-e","v":0.076},{"g":"CT-e","v":0.077},{"g":"CT-e","v":0.079},{"g":"CT-e","v":0.080},
{"g":"CT-e","v":0.083},{"g":"CT-e","v":0.088},{"g":"CT-e","v":0.094},{"g":"CT-e","v":0.100},{"g":"CT-e","v":0.107},{"g":"CT-e","v":0.115},{"g":"CT-e","v":0.125},{"g":"CT-e","v":0.145},{"g":"CT-e","v":0.165},{"g":"CT-e","v":0.240},{"g":"CT-e","v":0.241},{"g":"CT-e","v":0.345},
{"g":"CT-e","v":0.013},{"g":"CT-e","v":0.022},{"g":"CT-e","v":0.031},{"g":"CT-e","v":0.039},{"g":"CT-e","v":0.044},{"g":"CT-e","v":0.048},{"g":"CT-e","v":0.0515},{"g":"CT-e","v":0.0545},{"g":"CT-e","v":0.056},{"g":"CT-e","v":0.0595},{"g":"CT-e","v":0.0615},{"g":"CT-e","v":0.0635},
{"g":"CT-e","v":0.066},{"g":"CT-e","v":0.068},{"g":"CT-e","v":0.071},{"g":"CT-e","v":0.0745},{"g":"CT-e","v":0.0775},{"g":"CT-e","v":0.079},{"g":"CT-e","v":0.085},{"g":"CT-e","v":0.091},{"g":"CT-e","v":0.097},{"g":"CT-e","v":0.104},{"g":"CT-e","v":0.111},{"g":"CT-e","v":0.12},
{"g":"CT-f","v":0.010},{"g":"CT-f","v":0.013},{"g":"CT-f","v":0.016},{"g":"CT-f","v":0.019},{"g":"CT-f","v":0.022},{"g":"CT-f","v":0.025},{"g":"CT-f","v":0.027},{"g":"CT-f","v":0.029},{"g":"CT-f","v":0.031},{"g":"CT-f","v":0.033},{"g":"CT-f","v":0.035},{"g":"CT-f","v":0.037},
{"g":"CT-f","v":0.040},{"g":"CT-f","v":0.042},{"g":"CT-f","v":0.044},{"g":"CT-f","v":0.046},{"g":"CT-f","v":0.048},{"g":"CT-f","v":0.050},{"g":"CT-f","v":0.051},{"g":"CT-f","v":0.052},{"g":"CT-f","v":0.054},{"g":"CT-f","v":0.055},{"g":"CT-f","v":0.057},{"g":"CT-f","v":0.058},
{"g":"CT-f","v":0.060},{"g":"CT-f","v":0.061},{"g":"CT-f","v":0.062},{"g":"CT-f","v":0.064},{"g":"CT-f","v":0.065},{"g":"CT-f","v":0.066},{"g":"CT-f","v":0.068},{"g":"CT-f","v":0.069},{"g":"CT-f","v":0.071},{"g":"CT-f","v":0.072},{"g":"CT-f","v":0.074},{"g":"CT-f","v":0.075},
{"g":"CT-f","v":0.078},{"g":"CT-f","v":0.084},{"g":"CT-f","v":0.091},{"g":"CT-f","v":0.100},{"g":"CT-f","v":0.112},{"g":"CT-f","v":0.128},{"g":"CT-f","v":0.185},{"g":"CT-f","v":0.186},{"g":"CT-f","v":0.210},{"g":"CT-f","v":0.211},{"g":"CT-f","v":0.274},{"g":"CT-f","v":0.275},
{"g":"CT-f","v":0.012},{"g":"CT-f","v":0.018},{"g":"CT-f","v":0.024},{"g":"CT-f","v":0.030},{"g":"CT-f","v":0.034},{"g":"CT-f","v":0.036},{"g":"CT-f","v":0.041},{"g":"CT-f","v":0.045},{"g":"CT-f","v":0.049},{"g":"CT-f","v":0.053},{"g":"CT-f","v":0.056},{"g":"CT-f","v":0.0585},
{"g":"CT-f","v":0.0605},{"g":"CT-f","v":0.063},{"g":"CT-f","v":0.067},{"g":"CT-f","v":0.07},{"g":"CT-f","v":0.073},{"g":"CT-f","v":0.0755},{"g":"CT-f","v":0.081},{"g":"CT-f","v":0.088},{"g":"CT-f","v":0.095},{"g":"CT-f","v":0.105},{"g":"CT-f","v":0.118},{"g":"CT-f","v":0.13}
],
"c":[
{"g":"PD-e","v":0.008},{"g":"PD-e","v":0.012},{"g":"PD-e","v":0.017},{"g":"PD-e","v":0.022},{"g":"PD-e","v":0.028},{"g":"PD-e","v":0.033},{"g":"PD-e","v":0.038},{"g":"PD-e","v":0.043},{"g":"PD-e","v":0.048},{"g":"PD-e","v":0.053},{"g":"PD-e","v":0.058},{"g":"PD-e","v":0.062},
{"g":"PD-e","v":0.066},{"g":"PD-e","v":0.068},{"g":"PD-e","v":0.070},{"g":"PD-e","v":0.072},{"g":"PD-e","v":0.074},{"g":"PD-e","v":0.076},{"g":"PD-e","v":0.078},{"g":"PD-e","v":0.080},{"g":"PD-e","v":0.082},{"g":"PD-e","v":0.083},{"g":"PD-e","v":0.085},{"g":"PD-e","v":0.086},
{"g":"PD-e","v":0.088},{"g":"PD-e","v":0.090},{"g":"PD-e","v":0.092},{"g":"PD-e","v":0.094},{"g":"PD-e","v":0.096},{"g":"PD-e","v":0.098},{"g":"PD-e","v":0.100},{"g":"PD-e","v":0.102},{"g":"PD-e","v":0.104},{"g":"PD-e","v":0.106},{"g":"PD-e","v":0.108},{"g":"PD-e","v":0.110},
{"g":"PD-e","v":0.114},{"g":"PD-e","v":0.117},{"g":"PD-e","v":0.121},{"g":"PD-e","v":0.125},{"g":"PD-e","v":0.130},{"g":"PD-e","v":0.140},{"g":"PD-e","v":0.150},{"g":"PD-e","v":0.160},{"g":"PD-e","v":0.170},{"g":"PD-e","v":0.194},{"g":"PD-e","v":0.219},{"g":"PD-e","v":0.220},
{"g":"PD-e","v":0.015},{"g":"PD-e","v":0.025},{"g":"PD-e","v":0.036},{"g":"PD-e","v":0.046},{"g":"PD-e","v":0.056},{"g":"PD-e","v":0.061},{"g":"PD-e","v":0.067},{"g":"PD-e","v":0.071},{"g":"PD-e","v":0.075},{"g":"PD-e","v":0.079},{"g":"PD-e","v":0.081},{"g":"PD-e","v":0.084},
{"g":"PD-e","v":0.089},{"g":"PD-e","v":0.093},{"g":"PD-e","v":0.097},{"g":"PD-e","v":0.101},{"g":"PD-e","v":0.105},{"g":"PD-e","v":0.109},{"g":"PD-e","v":0.115},{"g":"PD-e","v":0.119},{"g":"PD-e","v":0.123},{"g":"PD-e","v":0.135},{"g":"PD-e","v":0.145},{"g":"PD-e","v":0.165},
{"g":"PD-f","v":0.006},{"g":"PD-f","v":0.010},{"g":"PD-f","v":0.014},{"g":"PD-f","v":0.018},{"g":"PD-f","v":0.022},{"g":"PD-f","v":0.027},{"g":"PD-f","v":0.032},{"g":"PD-f","v":0.037},{"g":"PD-f","v":0.042},{"g":"PD-f","v":0.046},{"g":"PD-f","v":0.050},{"g":"PD-f","v":0.053},
{"g":"PD-f","v":0.057},{"g":"PD-f","v":0.059},{"g":"PD-f","v":0.061},{"g":"PD-f","v":0.063},{"g":"PD-f","v":0.065},{"g":"PD-f","v":0.067},{"g":"PD-f","v":0.069},{"g":"PD-f","v":0.071},{"g":"PD-f","v":0.073},{"g":"PD-f","v":0.075},{"g":"PD-f","v":0.077},{"g":"PD-f","v":0.079},
{"g":"PD-f","v":0.081},{"g":"PD-f","v":0.083},{"g":"PD-f","v":0.085},{"g":"PD-f","v":0.087},{"g":"PD-f","v":0.089},{"g":"PD-f","v":0.091},{"g":"PD-f","v":0.093},{"g":"PD-f","v":0.095},{"g":"PD-f","v":0.097},{"g":"PD-f","v":0.099},{"g":"PD-f","v":0.101},{"g":"PD-f","v":0.103},
{"g":"PD-f","v":0.106},{"g":"PD-f","v":0.110},{"g":"PD-f","v":0.115},{"g":"PD-f","v":0.122},{"g":"PD-f","v":0.130},{"g":"PD-f","v":0.145},{"g":"PD-f","v":0.160},{"g":"PD-f","v":0.175},{"g":"PD-f","v":0.190},{"g":"PD-f","v":0.200},{"g":"PD-f","v":0.228},{"g":"PD-f","v":0.229},
{"g":"PD-f","v":0.012},{"g":"PD-f","v":0.020},{"g":"PD-f","v":0.030},{"g":"PD-f","v":0.040},{"g":"PD-f","v":0.048},{"g":"PD-f","v":0.052},{"g":"PD-f","v":0.058},{"g":"PD-f","v":0.062},{"g":"PD-f","v":0.066},{"g":"PD-f","v":0.070},{"g":"PD-f","v":0.074},{"g":"PD-f","v":0.078},
{"g":"PD-f","v":0.082},{"g":"PD-f","v":0.086},{"g":"PD-f","v":0.090},{"g":"PD-f","v":0.094},{"g":"PD-f","v":0.098},{"g":"PD-f","v":0.102},{"g":"PD-f","v":0.108},{"g":"PD-f","v":0.112},{"g":"PD-f","v":0.118},{"g":"PD-f","v":0.126},{"g":"PD-f","v":0.14},{"g":"PD-f","v":0.155},
{"g":"CT-e","v":0.008},{"g":"CT-e","v":0.012},{"g":"CT-e","v":0.018},{"g":"CT-e","v":0.024},{"g":"CT-e","v":0.030},{"g":"CT-e","v":0.036},{"g":"CT-e","v":0.042},{"g":"CT-e","v":0.048},{"g":"CT-e","v":0.053},{"g":"CT-e","v":0.058},{"g":"CT-e","v":0.062},{"g":"CT-e","v":0.065},
{"g":"CT-e","v":0.069},{"g":"CT-e","v":0.071},{"g":"CT-e","v":0.074},{"g":"CT-e","v":0.076},{"g":"CT-e","v":0.079},{"g":"CT-e","v":0.081},{"g":"CT-e","v":0.083},{"g":"CT-e","v":0.085},{"g":"CT-e","v":0.087},{"g":"CT-e","v":0.089},{"g":"CT-e","v":0.091},{"g":"CT-e","v":0.093},
{"g":"CT-e","v":0.097},{"g":"CT-e","v":0.100},{"g":"CT-e","v":0.103},{"g":"CT-e","v":0.106},{"g":"CT-e","v":0.109},{"g":"CT-e","v":0.112},{"g":"CT-e","v":0.115},{"g":"CT-e","v":0.118},{"g":"CT-e","v":0.122},{"g":"CT-e","v":0.125},{"g":"CT-e","v":0.128},{"g":"CT-e","v":0.131},
{"g":"CT-e","v":0.136},{"g":"CT-e","v":0.145},{"g":"CT-e","v":0.160},{"g":"CT-e","v":0.175},{"g":"CT-e","v":0.200},{"g":"CT-e","v":0.236},{"g":"CT-e","v":0.262},{"g":"CT-e","v":0.265},{"g":"CT-e","v":0.313},{"g":"CT-e","v":0.314},{"g":"CT-e","v":0.363},{"g":"CT-e","v":0.364},
{"g":"CT-e","v":0.015},{"g":"CT-e","v":0.027},{"g":"CT-e","v":0.039},{"g":"CT-e","v":0.05},{"g":"CT-e","v":0.06},{"g":"CT-e","v":0.064},{"g":"CT-e","v":0.07},{"g":"CT-e","v":0.075},{"g":"CT-e","v":0.08},{"g":"CT-e","v":0.084},{"g":"CT-e","v":0.088},{"g":"CT-e","v":0.092},
{"g":"CT-e","v":0.098},{"g":"CT-e","v":0.104},{"g":"CT-e","v":0.11},{"g":"CT-e","v":0.116},{"g":"CT-e","v":0.124},{"g":"CT-e","v":0.13},{"g":"CT-e","v":0.14},{"g":"CT-e","v":0.15},{"g":"CT-e","v":0.155},{"g":"CT-e","v":0.165},{"g":"CT-e","v":0.18},{"g":"CT-e","v":0.19},
{"g":"CT-f","v":0.010},{"g":"CT-f","v":0.015},{"g":"CT-f","v":0.020},{"g":"CT-f","v":0.026},{"g":"CT-f","v":0.032},{"g":"CT-f","v":0.038},{"g":"CT-f","v":0.044},{"g":"CT-f","v":0.049},{"g":"CT-f","v":0.054},{"g":"CT-f","v":0.058},{"g":"CT-f","v":0.062},{"g":"CT-f","v":0.065},
{"g":"CT-f","v":0.069},{"g":"CT-f","v":0.071},{"g":"CT-f","v":0.073},{"g":"CT-f","v":0.075},{"g":"CT-f","v":0.077},{"g":"CT-f","v":0.079},{"g":"CT-f","v":0.081},{"g":"CT-f","v":0.083},{"g":"CT-f","v":0.085},{"g":"CT-f","v":0.087},{"g":"CT-f","v":0.089},{"g":"CT-f","v":0.091},
{"g":"CT-f","v":0.093},{"g":"CT-f","v":0.095},{"g":"CT-f","v":0.097},{"g":"CT-f","v":0.099},{"g":"CT-f","v":0.101},{"g":"CT-f","v":0.103},{"g":"CT-f","v":0.105},{"g":"CT-f","v":0.107},{"g":"CT-f","v":0.109},{"g":"CT-f","v":0.111},{"g":"CT-f","v":0.114},{"g":"CT-f","v":0.117},
{"g":"CT-f","v":0.122},{"g":"CT-f","v":0.128},{"g":"CT-f","v":0.135},{"g":"CT-f","v":0.145},{"g":"CT-f","v":0.158},{"g":"CT-f","v":0.172},{"g":"CT-f","v":0.190},{"g":"CT-f","v":0.205},{"g":"CT-f","v":0.220},{"g":"CT-f","v":0.250},{"g":"CT-f","v":0.266},{"g":"CT-f","v":0.267},
{"g":"CT-f","v":0.018},{"g":"CT-f","v":0.029},{"g":"CT-f","v":0.041},{"g":"CT-f","v":0.052},{"g":"CT-f","v":0.06},{"g":"CT-f","v":0.064},{"g":"CT-f","v":0.07},{"g":"CT-f","v":0.074},{"g":"CT-f","v":0.078},{"g":"CT-f","v":0.082},{"g":"CT-f","v":0.086},{"g":"CT-f","v":0.09},
{"g":"CT-f","v":0.094},{"g":"CT-f","v":0.098},{"g":"CT-f","v":0.102},{"g":"CT-f","v":0.106},{"g":"CT-f","v":0.11},{"g":"CT-f","v":0.116},{"g":"CT-f","v":0.125},{"g":"CT-f","v":0.132},{"g":"CT-f","v":0.14},{"g":"CT-f","v":0.15},{"g":"CT-f","v":0.165},{"g":"CT-f","v":0.18}
],
"d":[
{"g":"PD-e","v":0.021},{"g":"PD-e","v":0.030},{"g":"PD-e","v":0.045},{"g":"PD-e","v":0.058},{"g":"PD-e","v":0.068},{"g":"PD-e","v":0.077},{"g":"PD-e","v":0.085},{"g":"PD-e","v":0.092},{"g":"PD-e","v":0.098},{"g":"PD-e","v":0.104},{"g":"PD-e","v":0.109},{"g":"PD-e","v":0.113},
{"g":"PD-e","v":0.118},{"g":"PD-e","v":0.122},{"g":"PD-e","v":0.126},{"g":"PD-e","v":0.130},{"g":"PD-e","v":0.134},{"g":"PD-e","v":0.138},{"g":"PD-e","v":0.142},{"g":"PD-e","v":0.146},{"g":"PD-e","v":0.150},{"g":"PD-e","v":0.153},{"g":"PD-e","v":0.156},{"g":"PD-e","v":0.158},
{"g":"PD-e","v":0.162},{"g":"PD-e","v":0.166},{"g":"PD-e","v":0.170},{"g":"PD-e","v":0.174},{"g":"PD-e","v":0.178},{"g":"PD-e","v":0.182},{"g":"PD-e","v":0.186},{"g":"PD-e","v":0.190},{"g":"PD-e","v":0.194},{"g":"PD-e","v":0.198},{"g":"PD-e","v":0.203},{"g":"PD-e","v":0.207},
{"g":"PD-e","v":0.215},{"g":"PD-e","v":0.228},{"g":"PD-e","v":0.245},{"g":"PD-e","v":0.265},{"g":"PD-e","v":0.290},{"g":"PD-e","v":0.333},{"g":"PD-e","v":0.355},{"g":"PD-e","v":0.357},{"g":"PD-e","v":0.393},{"g":"PD-e","v":0.394},{"g":"PD-e","v":0.447},{"g":"PD-e","v":0.448},
{"g":"PD-e","v":0.04},{"g":"PD-e","v":0.063},{"g":"PD-e","v":0.081},{"g":"PD-e","v":0.095},{"g":"PD-e","v":0.106},{"g":"PD-e","v":0.111},{"g":"PD-e","v":0.12},{"g":"PD-e","v":0.128},{"g":"PD-e","v":0.136},{"g":"PD-e","v":0.144},{"g":"PD-e","v":0.152},{"g":"PD-e","v":0.157},
{"g":"PD-e","v":0.164},{"g":"PD-e","v":0.172},{"g":"PD-e","v":0.18},{"g":"PD-e","v":0.188},{"g":"PD-e","v":0.196},{"g":"PD-e","v":0.205},{"g":"PD-e","v":0.22},{"g":"PD-e","v":0.235},{"g":"PD-e","v":0.255},{"g":"PD-e","v":0.275},{"g":"PD-e","v":0.3},{"g":"PD-e","v":0.32},
{"g":"PD-f","v":0.015},{"g":"PD-f","v":0.025},{"g":"PD-f","v":0.038},{"g":"PD-f","v":0.050},{"g":"PD-f","v":0.062},{"g":"PD-f","v":0.072},{"g":"PD-f","v":0.080},{"g":"PD-f","v":0.088},{"g":"PD-f","v":0.095},{"g":"PD-f","v":0.102},{"g":"PD-f","v":0.108},{"g":"PD-f","v":0.113},
{"g":"PD-f","v":0.117},{"g":"PD-f","v":0.121},{"g":"PD-f","v":0.125},{"g":"PD-f","v":0.128},{"g":"PD-f","v":0.132},{"g":"PD-f","v":0.135},{"g":"PD-f","v":0.138},{"g":"PD-f","v":0.141},{"g":"PD-f","v":0.144},{"g":"PD-f","v":0.147},{"g":"PD-f","v":0.149},{"g":"PD-f","v":0.151},
{"g":"PD-f","v":0.154},{"g":"PD-f","v":0.157},{"g":"PD-f","v":0.160},{"g":"PD-f","v":0.163},{"g":"PD-f","v":0.167},{"g":"PD-f","v":0.170},{"g":"PD-f","v":0.174},{"g":"PD-f","v":0.177},{"g":"PD-f","v":0.181},{"g":"PD-f","v":0.185},{"g":"PD-f","v":0.188},{"g":"PD-f","v":0.191},
{"g":"PD-f","v":0.196},{"g":"PD-f","v":0.205},{"g":"PD-f","v":0.215},{"g":"PD-f","v":0.230},{"g":"PD-f","v":0.250},{"g":"PD-f","v":0.270},{"g":"PD-f","v":0.283},{"g":"PD-f","v":0.337},{"g":"PD-f","v":0.356},{"g":"PD-f","v":0.357},{"g":"PD-f","v":0.415},{"g":"PD-f","v":0.416},
{"g":"PD-f","v":0.032},{"g":"PD-f","v":0.056},{"g":"PD-f","v":0.076},{"g":"PD-f","v":0.091},{"g":"PD-f","v":0.105},{"g":"PD-f","v":0.11},{"g":"PD-f","v":0.119},{"g":"PD-f","v":0.127},{"g":"PD-f","v":0.134},{"g":"PD-f","v":0.14},{"g":"PD-f","v":0.146},{"g":"PD-f","v":0.15},
{"g":"PD-f","v":0.156},{"g":"PD-f","v":0.162},{"g":"PD-f","v":0.168},{"g":"PD-f","v":0.176},{"g":"PD-f","v":0.183},{"g":"PD-f","v":0.19},{"g":"PD-f","v":0.2},{"g":"PD-f","v":0.21},{"g":"PD-f","v":0.22},{"g":"PD-f","v":0.24},{"g":"PD-f","v":0.26},{"g":"PD-f","v":0.276},
{"g":"CT-e","v":0.033},{"g":"CT-e","v":0.040},{"g":"CT-e","v":0.050},{"g":"CT-e","v":0.060},{"g":"CT-e","v":0.070},{"g":"CT-e","v":0.080},{"g":"CT-e","v":0.088},{"g":"CT-e","v":0.096},{"g":"CT-e","v":0.104},{"g":"CT-e","v":0.111},{"g":"CT-e","v":0.117},{"g":"CT-e","v":0.122},
{"g":"CT-e","v":0.127},{"g":"CT-e","v":0.130},{"g":"CT-e","v":0.133},{"g":"CT-e","v":0.136},{"g":"CT-e","v":0.139},{"g":"CT-e","v":0.142},{"g":"CT-e","v":0.145},{"g":"CT-e","v":0.148},{"g":"CT-e","v":0.151},{"g":"CT-e","v":0.154},{"g":"CT-e","v":0.156},{"g":"CT-e","v":0.158},
{"g":"CT-e","v":0.163},{"g":"CT-e","v":0.168},{"g":"CT-e","v":0.173},{"g":"CT-e","v":0.178},{"g":"CT-e","v":0.183},{"g":"CT-e","v":0.188},{"g":"CT-e","v":0.193},{"g":"CT-e","v":0.198},{"g":"CT-e","v":0.204},{"g":"CT-e","v":0.210},{"g":"CT-e","v":0.215},{"g":"CT-e","v":0.220},
{"g":"CT-e","v":0.228},{"g":"CT-e","v":0.240},{"g":"CT-e","v":0.255},{"g":"CT-e","v":0.270},{"g":"CT-e","v":0.300},{"g":"CT-e","v":0.361},{"g":"CT-e","v":0.403},{"g":"CT-e","v":0.419},{"g":"CT-e","v":0.420},{"g":"CT-e","v":0.464},{"g":"CT-e","v":0.465},{"g":"CT-e","v":0.466},
{"g":"CT-e","v":0.045},{"g":"CT-e","v":0.065},{"g":"CT-e","v":0.084},{"g":"CT-e","v":0.1},{"g":"CT-e","v":0.114},{"g":"CT-e","v":0.12},{"g":"CT-e","v":0.128},{"g":"CT-e","v":0.134},{"g":"CT-e","v":0.14},{"g":"CT-e","v":0.147},{"g":"CT-e","v":0.153},{"g":"CT-e","v":0.157},
{"g":"CT-e","v":0.166},{"g":"CT-e","v":0.176},{"g":"CT-e","v":0.186},{"g":"CT-e","v":0.196},{"g":"CT-e","v":0.207},{"g":"CT-e","v":0.218},{"g":"CT-e","v":0.234},{"g":"CT-e","v":0.248},{"g":"CT-e","v":0.262},{"g":"CT-e","v":0.285},{"g":"CT-e","v":0.31},{"g":"CT-e","v":0.335},
{"g":"CT-f","v":0.035},{"g":"CT-f","v":0.045},{"g":"CT-f","v":0.055},{"g":"CT-f","v":0.066},{"g":"CT-f","v":0.076},{"g":"CT-f","v":0.085},{"g":"CT-f","v":0.093},{"g":"CT-f","v":0.100},{"g":"CT-f","v":0.106},{"g":"CT-f","v":0.111},{"g":"CT-f","v":0.115},{"g":"CT-f","v":0.118},
{"g":"CT-f","v":0.121},{"g":"CT-f","v":0.124},{"g":"CT-f","v":0.128},{"g":"CT-f","v":0.132},{"g":"CT-f","v":0.136},{"g":"CT-f","v":0.140},{"g":"CT-f","v":0.143},{"g":"CT-f","v":0.146},{"g":"CT-f","v":0.149},{"g":"CT-f","v":0.151},{"g":"CT-f","v":0.153},{"g":"CT-f","v":0.155},
{"g":"CT-f","v":0.158},{"g":"CT-f","v":0.161},{"g":"CT-f","v":0.165},{"g":"CT-f","v":0.169},{"g":"CT-f","v":0.173},{"g":"CT-f","v":0.177},{"g":"CT-f","v":0.181},{"g":"CT-f","v":0.185},{"g":"CT-f","v":0.189},{"g":"CT-f","v":0.193},{"g":"CT-f","v":0.197},{"g":"CT-f","v":0.201},
{"g":"CT-f","v":0.206},{"g":"CT-f","v":0.212},{"g":"CT-f","v":0.220},{"g":"CT-f","v":0.230},{"g":"CT-f","v":0.242},{"g":"CT-f","v":0.255},{"g":"CT-f","v":0.270},{"g":"CT-f","v":0.290},{"g":"CT-f","v":0.310},{"g":"CT-f","v":0.326},{"g":"CT-f","v":0.394},{"g":"CT-f","v":0.395},
{"g":"CT-f","v":0.05},{"g":"CT-f","v":0.071},{"g":"CT-f","v":0.089},{"g":"CT-f","v":0.103},{"g":"CT-f","v":0.113},{"g":"CT-f","v":0.117},{"g":"CT-f","v":0.123},{"g":"CT-f","v":0.13},{"g":"CT-f","v":0.138},{"g":"CT-f","v":0.145},{"g":"CT-f","v":0.15},{"g":"CT-f","v":0.154},
{"g":"CT-f","v":0.16},{"g":"CT-f","v":0.167},{"g":"CT-f","v":0.175},{"g":"CT-f","v":0.183},{"g":"CT-f","v":0.191},{"g":"CT-f","v":0.199},{"g":"CT-f","v":0.209},{"g":"CT-f","v":0.225},{"g":"CT-f","v":0.248},{"g":"CT-f","v":0.262},{"g":"CT-f","v":0.28},{"g":"CT-f","v":0.3}
],
"e":[
{"g":"PD-e","v":0.005},{"g":"PD-e","v":0.007},{"g":"PD-e","v":0.010},{"g":"PD-e","v":0.013},{"g":"PD-e","v":0.016},{"g":"PD-e","v":0.019},{"g":"PD-e","v":0.022},{"g":"PD-e","v":0.025},{"g":"PD-e","v":0.028},{"g":"PD-e","v":0.031},{"g":"PD-e","v":0.034},{"g":"PD-e","v":0.036},
{"g":"PD-e","v":0.039},{"g":"PD-e","v":0.042},{"g":"PD-e","v":0.045},{"g":"PD-e","v":0.047},{"g":"PD-e","v":0.050},{"g":"PD-e","v":0.053},{"g":"PD-e","v":0.055},{"g":"PD-e","v":0.058},{"g":"PD-e","v":0.060},{"g":"PD-e","v":0.062},{"g":"PD-e","v":0.064},{"g":"PD-e","v":0.066},
{"g":"PD-e","v":0.068},{"g":"PD-e","v":0.070},{"g":"PD-e","v":0.072},{"g":"PD-e","v":0.074},{"g":"PD-e","v":0.076},{"g":"PD-e","v":0.078},{"g":"PD-e","v":0.080},{"g":"PD-e","v":0.082},{"g":"PD-e","v":0.085},{"g":"PD-e","v":0.087},{"g":"PD-e","v":0.090},{"g":"PD-e","v":0.093},
{"g":"PD-e","v":0.096},{"g":"PD-e","v":0.100},{"g":"PD-e","v":0.105},{"g":"PD-e","v":0.110},{"g":"PD-e","v":0.116},{"g":"PD-e","v":0.122},{"g":"PD-e","v":0.130},{"g":"PD-e","v":0.145},{"g":"PD-e","v":0.173},{"g":"PD-e","v":0.185},{"g":"PD-e","v":0.190},{"g":"PD-e","v":0.191},
{"g":"PD-e","v":0.006},{"g":"PD-e","v":0.012},{"g":"PD-e","v":0.018},{"g":"PD-e","v":0.024},{"g":"PD-e","v":0.030},{"g":"PD-e","v":0.035},{"g":"PD-e","v":0.041},{"g":"PD-e","v":0.046},{"g":"PD-e","v":0.052},{"g":"PD-e","v":0.057},{"g":"PD-e","v":0.061},{"g":"PD-e","v":0.065},
{"g":"PD-e","v":0.069},{"g":"PD-e","v":0.073},{"g":"PD-e","v":0.077},{"g":"PD-e","v":0.081},{"g":"PD-e","v":0.086},{"g":"PD-e","v":0.091},{"g":"PD-e","v":0.098},{"g":"PD-e","v":0.103},{"g":"PD-e","v":0.112},{"g":"PD-e","v":0.125},{"g":"PD-e","v":0.138},{"g":"PD-e","v":0.16},
{"g":"PD-f","v":0.005},{"g":"PD-f","v":0.007},{"g":"PD-f","v":0.009},{"g":"PD-f","v":0.011},{"g":"PD-f","v":0.014},{"g":"PD-f","v":0.017},{"g":"PD-f","v":0.020},{"g":"PD-f","v":0.023},{"g":"PD-f","v":0.026},{"g":"PD-f","v":0.028},{"g":"PD-f","v":0.030},{"g":"PD-f","v":0.031},
{"g":"PD-f","v":0.033},{"g":"PD-f","v":0.036},{"g":"PD-f","v":0.039},{"g":"PD-f","v":0.042},{"g":"PD-f","v":0.045},{"g":"PD-f","v":0.048},{"g":"PD-f","v":0.050},{"g":"PD-f","v":0.053},{"g":"PD-f","v":0.055},{"g":"PD-f","v":0.057},{"g":"PD-f","v":0.059},{"g":"PD-f","v":0.061},
{"g":"PD-f","v":0.062},{"g":"PD-f","v":0.064},{"g":"PD-f","v":0.066},{"g":"PD-f","v":0.068},{"g":"PD-f","v":0.070},{"g":"PD-f","v":0.073},{"g":"PD-f","v":0.075},{"g":"PD-f","v":0.078},{"g":"PD-f","v":0.081},{"g":"PD-f","v":0.084},{"g":"PD-f","v":0.086},{"g":"PD-f","v":0.088},
{"g":"PD-f","v":0.092},{"g":"PD-f","v":0.096},{"g":"PD-f","v":0.101},{"g":"PD-f","v":0.107},{"g":"PD-f","v":0.113},{"g":"PD-f","v":0.120},{"g":"PD-f","v":0.135},{"g":"PD-f","v":0.155},{"g":"PD-f","v":0.165},{"g":"PD-f","v":0.204},{"g":"PD-f","v":0.215},{"g":"PD-f","v":0.216},
{"g":"PD-f","v":0.006},{"g":"PD-f","v":0.010},{"g":"PD-f","v":0.016},{"g":"PD-f","v":0.022},{"g":"PD-f","v":0.027},{"g":"PD-f","v":0.0305},{"g":"PD-f","v":0.035},{"g":"PD-f","v":0.04},{"g":"PD-f","v":0.046},{"g":"PD-f","v":0.051},{"g":"PD-f","v":0.056},{"g":"PD-f","v":0.06},
{"g":"PD-f","v":0.063},{"g":"PD-f","v":0.067},{"g":"PD-f","v":0.072},{"g":"PD-f","v":0.077},{"g":"PD-f","v":0.082},{"g":"PD-f","v":0.087},{"g":"PD-f","v":0.094},{"g":"PD-f","v":0.099},{"g":"PD-f","v":0.105},{"g":"PD-f","v":0.116},{"g":"PD-f","v":0.128},{"g":"PD-f","v":0.145},
{"g":"CT-e","v":0.005},{"g":"CT-e","v":0.008},{"g":"CT-e","v":0.012},{"g":"CT-e","v":0.016},{"g":"CT-e","v":0.020},{"g":"CT-e","v":0.024},{"g":"CT-e","v":0.028},{"g":"CT-e","v":0.032},{"g":"CT-e","v":0.036},{"g":"CT-e","v":0.039},{"g":"CT-e","v":0.042},{"g":"CT-e","v":0.045},
{"g":"CT-e","v":0.048},{"g":"CT-e","v":0.051},{"g":"CT-e","v":0.054},{"g":"CT-e","v":0.057},{"g":"CT-e","v":0.060},{"g":"CT-e","v":0.063},{"g":"CT-e","v":0.066},{"g":"CT-e","v":0.068},{"g":"CT-e","v":0.070},{"g":"CT-e","v":0.072},{"g":"CT-e","v":0.074},{"g":"CT-e","v":0.076},
{"g":"CT-e","v":0.079},{"g":"CT-e","v":0.082},{"g":"CT-e","v":0.085},{"g":"CT-e","v":0.088},{"g":"CT-e","v":0.091},{"g":"CT-e","v":0.094},{"g":"CT-e","v":0.097},{"g":"CT-e","v":0.100},{"g":"CT-e","v":0.103},{"g":"CT-e","v":0.106},{"g":"CT-e","v":0.109},{"g":"CT-e","v":0.112},
{"g":"CT-e","v":0.116},{"g":"CT-e","v":0.122},{"g":"CT-e","v":0.128},{"g":"CT-e","v":0.135},{"g":"CT-e","v":0.143},{"g":"CT-e","v":0.152},{"g":"CT-e","v":0.167},{"g":"CT-e","v":0.190},{"g":"CT-e","v":0.210},{"g":"CT-e","v":0.234},{"g":"CT-e","v":0.249},{"g":"CT-e","v":0.264},
{"g":"CT-e","v":0.007},{"g":"CT-e","v":0.014},{"g":"CT-e","v":0.022},{"g":"CT-e","v":0.03},{"g":"CT-e","v":0.038},{"g":"CT-e","v":0.043},{"g":"CT-e","v":0.05},{"g":"CT-e","v":0.056},{"g":"CT-e","v":0.062},{"g":"CT-e","v":0.067},{"g":"CT-e","v":0.071},{"g":"CT-e","v":0.075},
{"g":"CT-e","v":0.08},{"g":"CT-e","v":0.087},{"g":"CT-e","v":0.093},{"g":"CT-e","v":0.099},{"g":"CT-e","v":0.105},{"g":"CT-e","v":0.11},{"g":"CT-e","v":0.119},{"g":"CT-e","v":0.125},{"g":"CT-e","v":0.14},{"g":"CT-e","v":0.148},{"g":"CT-e","v":0.16},{"g":"CT-e","v":0.18},
{"g":"CT-f","v":0.005},{"g":"CT-f","v":0.007},{"g":"CT-f","v":0.010},{"g":"CT-f","v":0.013},{"g":"CT-f","v":0.016},{"g":"CT-f","v":0.019},{"g":"CT-f","v":0.022},{"g":"CT-f","v":0.025},{"g":"CT-f","v":0.028},{"g":"CT-f","v":0.031},{"g":"CT-f","v":0.034},{"g":"CT-f","v":0.036},
{"g":"CT-f","v":0.039},{"g":"CT-f","v":0.042},{"g":"CT-f","v":0.045},{"g":"CT-f","v":0.048},{"g":"CT-f","v":0.051},{"g":"CT-f","v":0.054},{"g":"CT-f","v":0.057},{"g":"CT-f","v":0.060},{"g":"CT-f","v":0.062},{"g":"CT-f","v":0.064},{"g":"CT-f","v":0.066},{"g":"CT-f","v":0.068},
{"g":"CT-f","v":0.070},{"g":"CT-f","v":0.072},{"g":"CT-f","v":0.074},{"g":"CT-f","v":0.076},{"g":"CT-f","v":0.078},{"g":"CT-f","v":0.080},{"g":"CT-f","v":0.083},{"g":"CT-f","v":0.086},{"g":"CT-f","v":0.089},{"g":"CT-f","v":0.091},{"g":"CT-f","v":0.094},{"g":"CT-f","v":0.096},
{"g":"CT-f","v":0.100},{"g":"CT-f","v":0.108},{"g":"CT-f","v":0.118},{"g":"CT-f","v":0.130},{"g":"CT-f","v":0.143},{"g":"CT-f","v":0.160},{"g":"CT-f","v":0.180},{"g":"CT-f","v":0.198},{"g":"CT-f","v":0.245},{"g":"CT-f","v":0.262},{"g":"CT-f","v":0.285},{"g":"CT-f","v":0.286},
{"g":"CT-f","v":0.006},{"g":"CT-f","v":0.012},{"g":"CT-f","v":0.018},{"g":"CT-f","v":0.024},{"g":"CT-f","v":0.03},{"g":"CT-f","v":0.035},{"g":"CT-f","v":0.041},{"g":"CT-f","v":0.047},{"g":"CT-f","v":0.053},{"g":"CT-f","v":0.058},{"g":"CT-f","v":0.063},{"g":"CT-f","v":0.067},
{"g":"CT-f","v":0.071},{"g":"CT-f","v":0.075},{"g":"CT-f","v":0.079},{"g":"CT-f","v":0.084},{"g":"CT-f","v":0.09},{"g":"CT-f","v":0.095},{"g":"CT-f","v":0.104},{"g":"CT-f","v":0.113},{"g":"CT-f","v":0.124},{"g":"CT-f","v":0.137},{"g":"CT-f","v":0.15},{"g":"CT-f","v":0.17}
],
"f":[
{"g":"PD-e","v":0.035},{"g":"PD-e","v":0.042},{"g":"PD-e","v":0.048},{"g":"PD-e","v":0.054},{"g":"PD-e","v":0.059},{"g":"PD-e","v":0.063},{"g":"PD-e","v":0.067},{"g":"PD-e","v":0.070},{"g":"PD-e","v":0.073},{"g":"PD-e","v":0.075},{"g":"PD-e","v":0.077},{"g":"PD-e","v":0.079},
{"g":"PD-e","v":0.082},{"g":"PD-e","v":0.084},{"g":"PD-e","v":0.086},{"g":"PD-e","v":0.088},{"g":"PD-e","v":0.090},{"g":"PD-e","v":0.092},{"g":"PD-e","v":0.094},{"g":"PD-e","v":0.096},{"g":"PD-e","v":0.098},{"g":"PD-e","v":0.100},{"g":"PD-e","v":0.102},{"g":"PD-e","v":0.103},
{"g":"PD-e","v":0.105},{"g":"PD-e","v":0.107},{"g":"PD-e","v":0.109},{"g":"PD-e","v":0.111},{"g":"PD-e","v":0.113},{"g":"PD-e","v":0.115},{"g":"PD-e","v":0.117},{"g":"PD-e","v":0.119},{"g":"PD-e","v":0.121},{"g":"PD-e","v":0.124},{"g":"PD-e","v":0.127},{"g":"PD-e","v":0.130},
{"g":"PD-e","v":0.133},{"g":"PD-e","v":0.137},{"g":"PD-e","v":0.142},{"g":"PD-e","v":0.148},{"g":"PD-e","v":0.155},{"g":"PD-e","v":0.163},{"g":"PD-e","v":0.172},{"g":"PD-e","v":0.183},{"g":"PD-e","v":0.195},{"g":"PD-e","v":0.205},{"g":"PD-e","v":0.366},{"g":"PD-e","v":0.368},
{"g":"PD-e","v":0.045},{"g":"PD-e","v":0.056},{"g":"PD-e","v":0.065},{"g":"PD-e","v":0.071},{"g":"PD-e","v":0.074},{"g":"PD-e","v":0.078},{"g":"PD-e","v":0.083},{"g":"PD-e","v":0.087},{"g":"PD-e","v":0.091},{"g":"PD-e","v":0.095},{"g":"PD-e","v":0.099},{"g":"PD-e","v":0.101},
{"g":"PD-e","v":0.106},{"g":"PD-e","v":0.11},{"g":"PD-e","v":0.114},{"g":"PD-e","v":0.118},{"g":"PD-e","v":0.122},{"g":"PD-e","v":0.128},{"g":"PD-e","v":0.135},{"g":"PD-e","v":0.145},{"g":"PD-e","v":0.152},{"g":"PD-e","v":0.16},{"g":"PD-e","v":0.178},{"g":"PD-e","v":0.19},
{"g":"PD-f","v":0.045},{"g":"PD-f","v":0.050},{"g":"PD-f","v":0.055},{"g":"PD-f","v":0.060},{"g":"PD-f","v":0.065},{"g":"PD-f","v":0.069},{"g":"PD-f","v":0.072},{"g":"PD-f","v":0.075},{"g":"PD-f","v":0.077},{"g":"PD-f","v":0.079},{"g":"PD-f","v":0.081},{"g":"PD-f","v":0.082},
{"g":"PD-f","v":0.085},{"g":"PD-f","v":0.087},{"g":"PD-f","v":0.089},{"g":"PD-f","v":0.091},{"g":"PD-f","v":0.093},{"g":"PD-f","v":0.096},{"g":"PD-f","v":0.099},{"g":"PD-f","v":0.101},{"g":"PD-f","v":0.103},{"g":"PD-f","v":0.105},{"g":"PD-f","v":0.108},{"g":"PD-f","v":0.110},
{"g":"PD-f","v":0.112},{"g":"PD-f","v":0.114},{"g":"PD-f","v":0.117},{"g":"PD-f","v":0.119},{"g":"PD-f","v":0.122},{"g":"PD-f","v":0.125},{"g":"PD-f","v":0.128},{"g":"PD-f","v":0.131},{"g":"PD-f","v":0.134},{"g":"PD-f","v":0.136},{"g":"PD-f","v":0.139},{"g":"PD-f","v":0.141},
{"g":"PD-f","v":0.145},{"g":"PD-f","v":0.152},{"g":"PD-f","v":0.162},{"g":"PD-f","v":0.175},{"g":"PD-f","v":0.190},{"g":"PD-f","v":0.201},{"g":"PD-f","v":0.248},{"g":"PD-f","v":0.249},{"g":"PD-f","v":0.275},{"g":"PD-f","v":0.276},{"g":"PD-f","v":0.333},{"g":"PD-f","v":0.334},
{"g":"PD-f","v":0.048},{"g":"PD-f","v":0.058},{"g":"PD-f","v":0.067},{"g":"PD-f","v":0.074},{"g":"PD-f","v":0.078},{"g":"PD-f","v":0.08},{"g":"PD-f","v":0.086},{"g":"PD-f","v":0.09},{"g":"PD-f","v":0.095},{"g":"PD-f","v":0.1},{"g":"PD-f","v":0.104},{"g":"PD-f","v":0.109},
{"g":"PD-f","v":0.113},{"g":"PD-f","v":0.118},{"g":"PD-f","v":0.124},{"g":"PD-f","v":0.13},{"g":"PD-f","v":0.135},{"g":"PD-f","v":0.14},{"g":"PD-f","v":0.148},{"g":"PD-f","v":0.157},{"g":"PD-f","v":0.168},{"g":"PD-f","v":0.18},{"g":"PD-f","v":0.185},{"g":"PD-f","v":0.195},
{"g":"CT-e","v":0.030},{"g":"CT-e","v":0.045},{"g":"CT-e","v":0.055},{"g":"CT-e","v":0.062},{"g":"CT-e","v":0.068},{"g":"CT-e","v":0.073},{"g":"CT-e","v":0.077},{"g":"CT-e","v":0.080},{"g":"CT-e","v":0.083},{"g":"CT-e","v":0.085},{"g":"CT-e","v":0.087},{"g":"CT-e","v":0.089},
{"g":"CT-e","v":0.091},{"g":"CT-e","v":0.093},{"g":"CT-e","v":0.095},{"g":"CT-e","v":0.097},{"g":"CT-e","v":0.099},{"g":"CT-e","v":0.101},{"g":"CT-e","v":0.103},{"g":"CT-e","v":0.105},{"g":"CT-e","v":0.107},{"g":"CT-e","v":0.109},{"g":"CT-e","v":0.111},{"g":"CT-e","v":0.113},
{"g":"CT-e","v":0.115},{"g":"CT-e","v":0.117},{"g":"CT-e","v":0.119},{"g":"CT-e","v":0.121},{"g":"CT-e","v":0.123},{"g":"CT-e","v":0.125},{"g":"CT-e","v":0.127},{"g":"CT-e","v":0.129},{"g":"CT-e","v":0.131},{"g":"CT-e","v":0.133},{"g":"CT-e","v":0.135},{"g":"CT-e","v":0.137},
{"g":"CT-e","v":0.140},{"g":"CT-e","v":0.145},{"g":"CT-e","v":0.151},{"g":"CT-e","v":0.158},{"g":"CT-e","v":0.166},{"g":"CT-e","v":0.175},{"g":"CT-e","v":0.185},{"g":"CT-e","v":0.198},{"g":"CT-e","v":0.208},{"g":"CT-e","v":0.235},{"g":"CT-e","v":0.249},{"g":"CT-e","v":0.250},
{"g":"CT-e","v":0.04},{"g":"CT-e","v":0.058},{"g":"CT-e","v":0.071},{"g":"CT-e","v":0.079},{"g":"CT-e","v":0.084},{"g":"CT-e","v":0.088},{"g":"CT-e","v":0.092},{"g":"CT-e","v":0.096},{"g":"CT-e","v":0.1},{"g":"CT-e","v":0.104},{"g":"CT-e","v":0.108},{"g":"CT-e","v":0.112},
{"g":"CT-e","v":0.116},{"g":"CT-e","v":0.12},{"g":"CT-e","v":0.124},{"g":"CT-e","v":0.128},{"g":"CT-e","v":0.132},{"g":"CT-e","v":0.136},{"g":"CT-e","v":0.142},{"g":"CT-e","v":0.148},{"g":"CT-e","v":0.155},{"g":"CT-e","v":0.17},{"g":"CT-e","v":0.18},{"g":"CT-e","v":0.2},
{"g":"CT-f","v":0.045},{"g":"CT-f","v":0.052},{"g":"CT-f","v":0.058},{"g":"CT-f","v":0.064},{"g":"CT-f","v":0.069},{"g":"CT-f","v":0.073},{"g":"CT-f","v":0.077},{"g":"CT-f","v":0.080},{"g":"CT-f","v":0.083},{"g":"CT-f","v":0.085},{"g":"CT-f","v":0.087},{"g":"CT-f","v":0.089},
{"g":"CT-f","v":0.091},{"g":"CT-f","v":0.093},{"g":"CT-f","v":0.095},{"g":"CT-f","v":0.097},{"g":"CT-f","v":0.099},{"g":"CT-f","v":0.101},{"g":"CT-f","v":0.103},{"g":"CT-f","v":0.105},{"g":"CT-f","v":0.107},{"g":"CT-f","v":0.109},{"g":"CT-f","v":0.111},{"g":"CT-f","v":0.113},
{"g":"CT-f","v":0.115},{"g":"CT-f","v":0.117},{"g":"CT-f","v":0.119},{"g":"CT-f","v":0.121},{"g":"CT-f","v":0.123},{"g":"CT-f","v":0.125},{"g":"CT-f","v":0.127},{"g":"CT-f","v":0.129},{"g":"CT-f","v":0.132},{"g":"CT-f","v":0.135},{"g":"CT-f","v":0.138},{"g":"CT-f","v":0.140},
{"g":"CT-f","v":0.143},{"g":"CT-f","v":0.148},{"g":"CT-f","v":0.154},{"g":"CT-f","v":0.161},{"g":"CT-f","v":0.169},{"g":"CT-f","v":0.178},{"g":"CT-f","v":0.188},{"g":"CT-f","v":0.198},{"g":"CT-f","v":0.206},{"g":"CT-f","v":0.215},{"g":"CT-f","v":0.234},{"g":"CT-f","v":0.235},
{"g":"CT-f","v":0.05},{"g":"CT-f","v":0.061},{"g":"CT-f","v":0.071},{"g":"CT-f","v":0.078},{"g":"CT-f","v":0.084},{"g":"CT-f","v":0.088},{"g":"CT-f","v":0.092},{"g":"CT-f","v":0.096},{"g":"CT-f","v":0.1},{"g":"CT-f","v":0.104},{"g":"CT-f","v":0.108},{"g":"CT-f","v":0.112},
{"g":"CT-f","v":0.116},{"g":"CT-f","v":0.12},{"g":"CT-f","v":0.124},{"g":"CT-f","v":0.128},{"g":"CT-f","v":0.134},{"g":"CT-f","v":0.139},{"g":"CT-f","v":0.146},{"g":"CT-f","v":0.151},{"g":"CT-f","v":0.158},{"g":"CT-f","v":0.165},{"g":"CT-f","v":0.175},{"g":"CT-f","v":0.2}
]
},
"config":{
"view":{"stroke":null},
"font":"Liberation Sans",
"axis":{"grid":false,"domainColor":"#8a8a8a","domainWidth":1.5,"tickColor":"#8a8a8a","labelFont":"Liberation Sans","labelOverlap":false},
"axisX":{"tickSize":3,"labelPadding":3,"labelFontSize":20,"labelColor":"#111111"},
"axisY":{"tickSize":2,"labelPadding":3,"labelFontSize":14,"labelFontWeight":"bold","labelColor":"#3a3a3a"},
"title":{"font":"Liberation Sans","fontSize":21,"fontStyle":"italic","fontWeight":"bold","anchor":"start","frame":"group","color":"#111111"}
}
}
